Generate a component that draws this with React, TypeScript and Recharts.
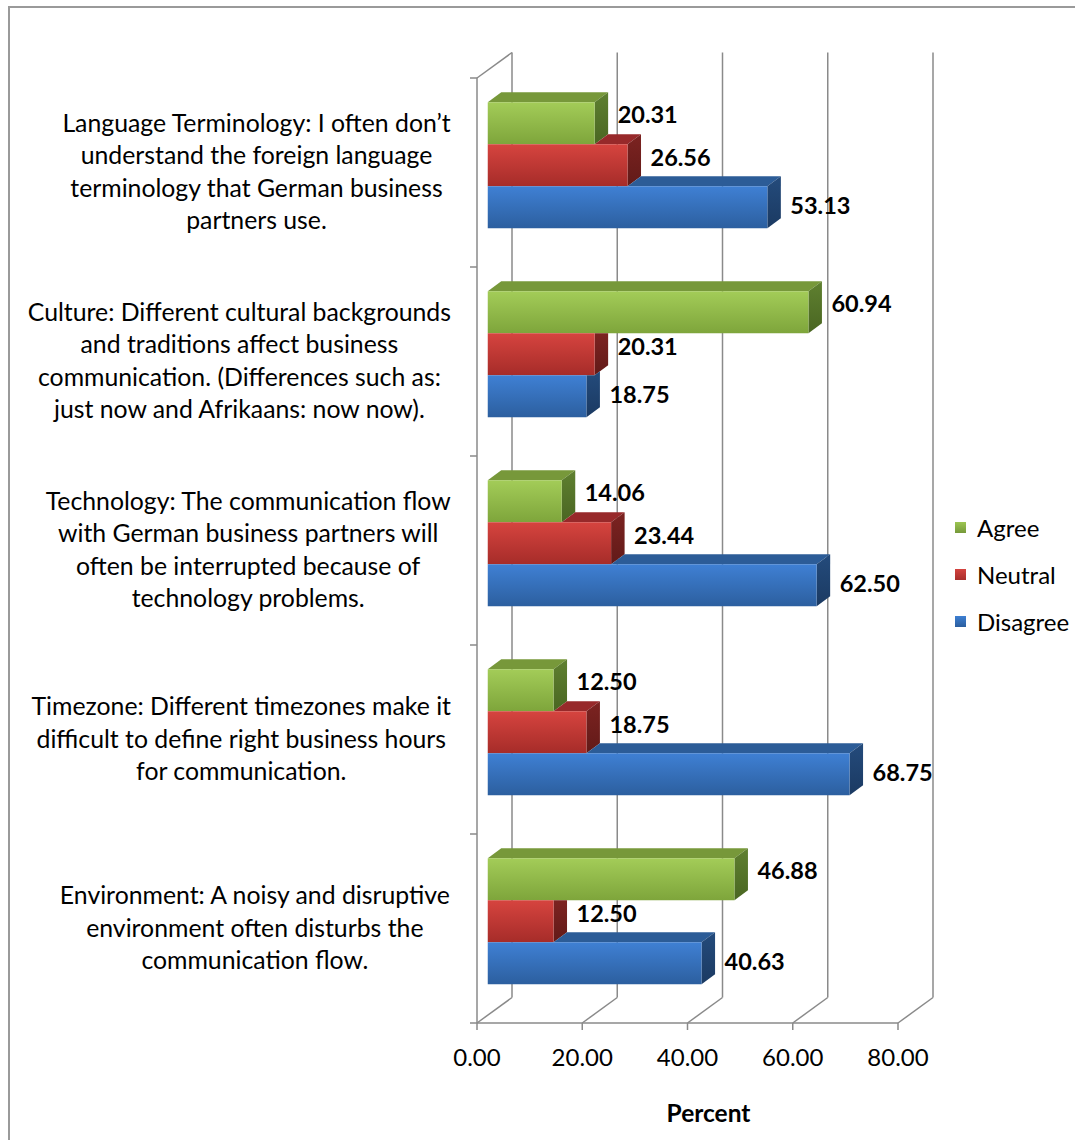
import React from 'react';
import { BarChart, Bar, XAxis, YAxis, CartesianGrid, LabelList, Legend } from 'recharts';

// ---------- data ----------
const categoryLines: string[][] = [
  ['Language Terminology: I often don\u2019t', 'understand the foreign language', 'terminology that German business', 'partners use.'],
  ['Culture: Different cultural backgrounds', 'and traditions affect business', 'communication. (Differences such as:', 'just now and Afrikaans: now now).'],
  ['Technology: The communication flow', 'with German business partners will', 'often be interrupted because of', 'technology problems.'],
  ['Timezone: Different timezones make it', 'difficult to define right business hours', 'for communication.'],
  ['Environment: A noisy and disruptive', 'environment often disturbs the', 'communication flow.'],
];
const categories = categoryLines.map((l) => l.join(' '));
const agree = [20.31, 60.94, 14.06, 12.5, 46.88];
const neutral = [26.56, 20.31, 23.44, 18.75, 12.5];
const disagree = [53.13, 18.75, 62.5, 68.75, 40.63];
const xTicks = [0, 20, 40, 60, 80];
const seriesKeys = ['agree', 'neutral', 'disagree'];
const seriesNames = ['Agree', 'Neutral', 'Disagree'];
const axisTitle = 'Percent';

const data = categories.map((c, i) => ({
  category: c,
  agree: agree[i],
  neutral: neutral[i],
  disagree: disagree[i],
}));

// ---------- layout / style ----------
const W = 1075;
const H = 1140;
const PLOT_L = 477;
const PLOT_R = 898;
const PLOT_T = 78;
const PLOT_B = 1023;
const BACK = { dx: 35, dy: -25.5 };
const OFF = { dx: 10.75, dy: -7.75 };
const DEPTH = { dx: 13.5, dy: 10 };
const GRID = '#8a8a8a';
const FONT = 'Lato, "Open Sans", sans-serif';
const CAT_FS = 24.8;
const CAT_LH = 32.4;
const LABEL_RIGHT = 451;

const colors = [
  { f1: '#a3cc58', f2: '#7ea53b', top: '#77983a', s1: '#5f8030', s2: '#4a6622', legend: ['#9cc552', '#76993a'] },
  { f1: '#d6443f', f2: '#a62c29', top: '#97292a', s1: '#7c2321', s2: '#621a18', legend: ['#d4433f', '#a82e2b'] },
  { f1: '#3f80d4', f2: '#2c5f9f', top: '#2c5c97', s1: '#244b7c', s2: '#1b3a62', legend: ['#3d7fd2', '#2b5e9e'] },
];
const labelDy = [-9, -8, -2];

let measureCtx: CanvasRenderingContext2D | null = null;
function measure(text: string, font: string) {
  if (!measureCtx) {
    const c = document.createElement('canvas');
    measureCtx = c.getContext('2d');
  }
  if (!measureCtx) return text.length * 11;
  measureCtx.font = font;
  return measureCtx.measureText(text).width;
}

function makeShape(si: number) {
  return (props: any) => {
    const { x, y, width, height, payload } = props;
    const v = payload[seriesKeys[si]];
    if (!v || width <= 0) return <g />;
    const ppu = width / v;
    const x0 = x + OFF.dx;
    const yT = y + OFF.dy;
    const yB = yT + height;
    const xr = x0 + width;
    const dx = DEPTH.dx;
    const dy = DEPTH.dy;
    let topStart = x0;
    let c = xr;
    if (si > 0) {
      const xa = x0 + payload[seriesKeys[si - 1]] * ppu;
      topStart = Math.max(x0, xa);
      c = Math.min(Math.max(xa, xr), xr + dx);
    }
    const col = colors[si];
    const side = `M${xr},${yT} L${c},${yT} L${xr + dx},${yT - ((xr + dx - c) * dy) / dx} L${xr + dx},${yB - dy} L${xr},${yB} Z`;
    return (
      <g>
        {topStart < xr && (
          <path d={`M${topStart},${yT} L${xr},${yT} L${xr + dx},${yT - dy} L${topStart + dx},${yT - dy} Z`} fill={col.top} />
        )}
        <path d={side} fill={`url(#side${si})`} />
        <rect x={x0} y={yT} width={width} height={height} fill={`url(#front${si})`} />
      </g>
    );
  };
}

function makeLabel(si: number) {
  return (props: any) => {
    const { x, y, width, height, value } = props;
    const tx = x + width + OFF.dx + 23;
    const ty = y + OFF.dy + height / 2 + labelDy[si] + 8.5;
    return (
      <text x={tx} y={ty} fontFamily={FONT} fontWeight={700} fontSize={23.5} fill="#000">
        {Number(value).toFixed(2)}
      </text>
    );
  };
}

const CategoryTick = (props: any) => {
  const { y, index } = props;
  const lines = categoryLines[index] || [];
  const font = `${CAT_FS}px Lato`;
  const maxW = Math.max(...lines.map((l) => measure(l, font)));
  const cx = LABEL_RIGHT - maxW / 2;
  const band = (PLOT_B - PLOT_T) / categories.length;
  const n = lines.length;
  return (
    <g>
      <line x1={PLOT_L - 7} x2={PLOT_L} y1={y - band / 2} y2={y - band / 2} stroke={GRID} strokeWidth={1.5} />
      {index === categories.length - 1 && (
        <line x1={PLOT_L - 7} x2={PLOT_L} y1={y + band / 2} y2={y + band / 2} stroke={GRID} strokeWidth={1.5} />
      )}
      {index === 0 && (
        <line x1={PLOT_L} y1={PLOT_T} x2={PLOT_L + BACK.dx} y2={PLOT_T + BACK.dy} stroke={GRID} strokeWidth={1.5} />
      )}
      {lines.map((l, i) => (
        <text
          key={i}
          x={cx}
          y={y + (i - (n - 1) / 2) * CAT_LH + 8}
          textAnchor="middle"
          fontFamily={FONT}
          fontSize={CAT_FS}
          fill="#000"
        >
          {l}
        </text>
      ))}
    </g>
  );
};

const ValueTick = (props: any) => {
  const { x, payload } = props;
  return (
    <g>
      <line x1={x} y1={PLOT_B} x2={x + BACK.dx} y2={PLOT_B + BACK.dy} stroke={GRID} strokeWidth={1.5} />
      <line x1={x} y1={PLOT_B} x2={x} y2={PLOT_B + 7} stroke={GRID} strokeWidth={1.5} />
      <text x={x} y={PLOT_B + 43} textAnchor="middle" fontFamily={FONT} fontSize={24} fill="#000">
        {Number(payload.value).toFixed(2)}
      </text>
    </g>
  );
};

const BackGridLine = (props: any) => {
  const { x1, x2, y1, y2 } = props;
  return (
    <line
      x1={x1 + BACK.dx}
      x2={x2 + BACK.dx}
      y1={y1 + BACK.dy}
      y2={y2 + BACK.dy}
      stroke={GRID}
      strokeWidth={1.5}
    />
  );
};

const LegendContent = () => (
  <div style={{ fontFamily: FONT, fontSize: 24, color: '#000', lineHeight: '28px' }}>
    {seriesNames.map((n, i) => (
      <div key={n} style={{ display: 'flex', alignItems: 'center', height: 47 }}>
        <div
          style={{
            width: 11,
            height: 11,
            marginRight: 11,
            background: `linear-gradient(${colors[i].legend[0]}, ${colors[i].legend[1]})`,
          }}
        />
        <span>{n}</span>
      </div>
    ))}
  </div>
);

export default function App() {
  return (
    <div style={{ position: 'absolute', left: 0, top: 0, width: W, height: H, background: '#fff', overflow: 'hidden' }}>
      <div
        style={{
          position: 'absolute',
          left: 8,
          top: 6,
          width: W + 20,
          height: H + 20,
          borderLeft: '2px solid #9a9a9a',
          borderTop: '2px solid #9a9a9a',
        }}
      />
      <div style={{ position: 'absolute', left: 0, top: 0 }}>
        <BarChart
          width={W}
          height={H}
          data={data}
          layout="vertical"
          margin={{ top: PLOT_T, right: W - PLOT_R, bottom: 0, left: 0 }}
          barSize={42}
          barGap={0}
        >
          <defs>
            {colors.map((c, i) => (
              <linearGradient key={`f${i}`} id={`front${i}`} x1="0" y1="0" x2="0" y2="1">
                <stop offset="0%" stopColor={c.f1} />
                <stop offset="100%" stopColor={c.f2} />
              </linearGradient>
            ))}
            {colors.map((c, i) => (
              <linearGradient key={`s${i}`} id={`side${i}`} x1="0" y1="0" x2="0" y2="1">
                <stop offset="0%" stopColor={c.s1} />
                <stop offset="100%" stopColor={c.s2} />
              </linearGradient>
            ))}
          </defs>
          <CartesianGrid horizontal={false} vertical={BackGridLine as any} />
          <XAxis
            type="number"
            domain={[0, 80]}
            ticks={xTicks}
            interval={0}
            height={H - PLOT_B}
            axisLine={{ stroke: GRID, strokeWidth: 1.5 }}
            tickLine={false}
            tick={<ValueTick />}
            label={{
              value: axisTitle,
              position: 'insideBottom',
              offset: 18,
              dx: 21,
              style: { fontFamily: FONT, fontWeight: 700, fontSize: 24.5, fill: '#000' },
            }}
          />
          <YAxis
            type="category"
            dataKey="category"
            width={PLOT_L}
            interval={0}
            axisLine={{ stroke: GRID, strokeWidth: 1.5 }}
            tickLine={false}
            tick={<CategoryTick />}
          />
          <Legend
            layout="horizontal"
            verticalAlign="middle"
            align="center"
            content={<LegendContent />}
            wrapperStyle={{ left: 955, top: 504, width: 120, right: 'auto' }}
          />
          {seriesKeys.map((k, i) => (
            <Bar key={k} dataKey={k} name={seriesNames[i]} isAnimationActive={false} shape={makeShape(i)}>
              <LabelList dataKey={k} content={makeLabel(i)} />
            </Bar>
          ))}
        </BarChart>
      </div>
    </div>
  );
}
